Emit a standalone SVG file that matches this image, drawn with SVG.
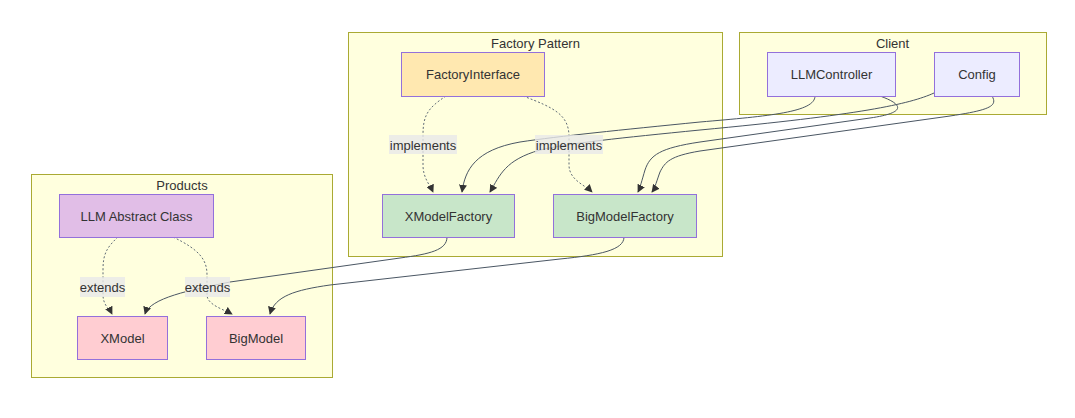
<svg xmlns="http://www.w3.org/2000/svg" width="1075" height="418" viewBox="0 0 1075 418">
<defs>
<style>
.cluster{fill:#ffffde;stroke:#aaaa33;stroke-width:1}
.node{stroke:#9370DB;stroke-width:1}
.t{font-family:"Liberation Sans",Arial,sans-serif;font-size:13px;fill:#333;text-anchor:middle;dominant-baseline:central}
.e{fill:none;stroke:#4a5663;stroke-width:1}
.d{stroke-dasharray:2 2;stroke:#5f6b76}
.lbl{fill:#e8e8e8;fill-opacity:0.8}
</style>
<marker id="arr" viewBox="0 0 10 10" refX="9" refY="5" markerWidth="8" markerHeight="8" markerUnits="userSpaceOnUse" orient="auto">
<path d="M0,0 L10,5 L0,10 z" fill="#333"/>
</marker>
</defs>
<rect width="1075" height="418" fill="#ffffff"/>
<g id="cluster-factory">
<rect class="cluster" x="348.5" y="32.5" width="374" height="224"/>
<text class="t" x="535.5" y="43">Factory Pattern</text>
</g>
<g id="cluster-client">
<rect class="cluster" x="739.5" y="32.5" width="307" height="82"/>
<text class="t" x="892.5" y="43">Client</text>
</g>
<g id="cluster-products">
<rect class="cluster" x="31.5" y="174.5" width="301" height="203"/>
<text class="t" x="182" y="185">Products</text>
</g>
<g id="connectors">
<path class="e d" d="M446,96 C428,108 423,115 423,135 L423,165 C423,178 430,185 433,192" marker-end="url(#arr)"/>
<path class="e d" d="M523,96 C555,108 568,115 569,135 L569,165 C569,180 585,185 592,192" marker-end="url(#arr)"/>
<path class="e d" d="M118,237 C106,248 103,255 103,270 L103,295 C103,305 110,310 112,314" marker-end="url(#arr)"/>
<path class="e d" d="M173,237 C200,250 207,260 207,275 L207,295 C207,305 225,310 232,314" marker-end="url(#arr)"/>
<path class="e" d="M815,96 C815,112 770,116 700,122 C620,130 560,136 520,142 C475,150 465,170 462,192" marker-end="url(#arr)"/>
<path class="e" d="M934,93 C910,104 860,115 700,130 C620,138 570,143 540,150 C505,160 500,175 490,192" marker-end="url(#arr)"/>
<path class="e" d="M880,96 C905,105 905,113 870,118 L700,142 C660,148 650,155 645,170 C642,180 640,188 638,192" marker-end="url(#arr)"/>
<path class="e" d="M992,96 C998,106 990,110 950,116 L700,151 C670,156 665,162 660,172 C657,180 655,188 652,192" marker-end="url(#arr)"/>
<path class="e" d="M447,237 C447,250 430,254 400,258 L230,282 C190,290 150,298 145,314" marker-end="url(#arr)"/>
<path class="e" d="M624,237 C624,250 600,255 560,259 L330,285 C295,290 275,296 270,314" marker-end="url(#arr)"/>
<rect class="lbl" x="389" y="135" width="68" height="19"/>
<text class="t" x="423" y="145">implements</text>
<rect class="lbl" x="535" y="135" width="68" height="19"/>
<text class="t" x="569" y="145">implements</text>
<rect class="lbl" x="80" y="277" width="45" height="20"/>
<text class="t" x="102.5" y="287">extends</text>
<rect class="lbl" x="185" y="277" width="45" height="20"/>
<text class="t" x="207.5" y="287">extends</text>
</g>
<g id="node-FactoryInterface">
<rect class="node" x="401.5" y="52.5" width="143" height="44" fill="#ffe8b0"/>
<text class="t" x="473" y="74.5">FactoryInterface</text>
</g>
<g id="node-XModelFactory">
<rect class="node" x="382.5" y="194.5" width="132" height="43" fill="#c8e6c9"/>
<text class="t" x="448.5" y="216">XModelFactory</text>
</g>
<g id="node-BigModelFactory">
<rect class="node" x="553.5" y="194.5" width="143" height="43" fill="#c8e6c9"/>
<text class="t" x="625" y="216">BigModelFactory</text>
</g>
<g id="node-LLMController">
<rect class="node" x="767.5" y="52.5" width="128" height="44" fill="#ececff"/>
<text class="t" x="831.5" y="74.5">LLMController</text>
</g>
<g id="node-Config">
<rect class="node" x="934.5" y="52.5" width="85" height="44" fill="#ececff"/>
<text class="t" x="977" y="74.5">Config</text>
</g>
<g id="node-LLM">
<rect class="node" x="59.5" y="194.5" width="154" height="43" fill="#e1bee7"/>
<text class="t" x="136.5" y="216">LLM Abstract Class</text>
</g>
<g id="node-XModel">
<rect class="node" x="77.5" y="316.5" width="90" height="43" fill="#ffcdd2"/>
<text class="t" x="122.5" y="338">XModel</text>
</g>
<g id="node-BigModel">
<rect class="node" x="206.5" y="316.5" width="99" height="43" fill="#ffcdd2"/>
<text class="t" x="256" y="338">BigModel</text>
</g>
</svg>
